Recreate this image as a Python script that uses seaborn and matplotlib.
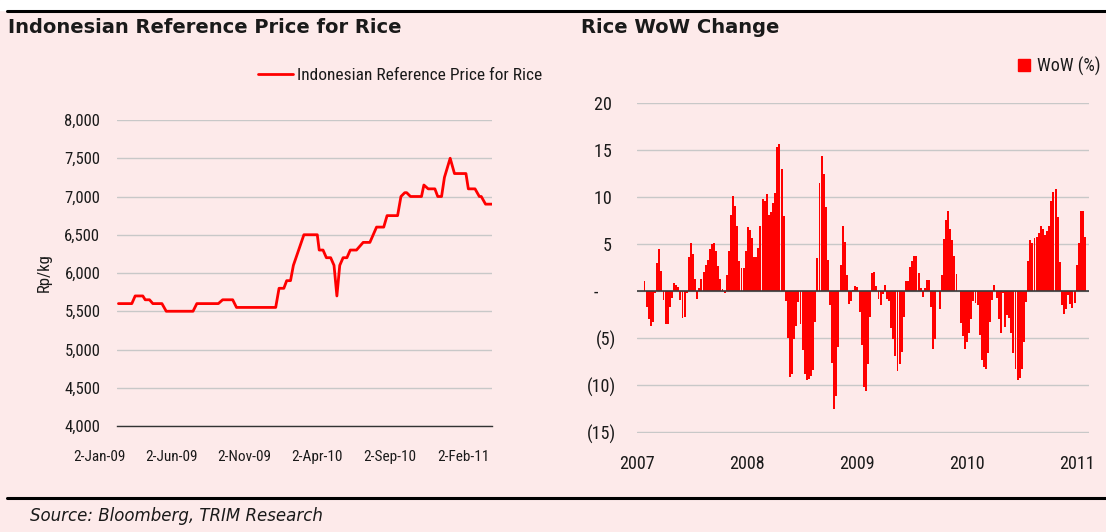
import matplotlib
matplotlib.use("Agg")
import numpy as np
import pandas as pd
import matplotlib.pyplot as plt
import matplotlib.dates as mdates
from matplotlib.lines import Line2D
from matplotlib.patches import Patch, Rectangle
import seaborn as sns

BG = "#FDEAEA"
RED = "#FF0000"
GRID = "#C8C8C8"
W, H = 1106, 532

# ---------------- data: Indonesian reference price (Rp/kg) ----------------
price_dates = [
    "2008-12-18", "2009-01-15", "2009-01-22", "2009-02-07", "2009-02-12", "2009-02-21",
    "2009-02-28", "2009-03-19", "2009-03-28", "2009-05-23", "2009-05-31", "2009-07-15",
    "2009-07-24", "2009-08-14", "2009-08-22", "2009-11-12", "2009-11-19", "2009-11-29",
    "2009-12-05", "2009-12-13", "2009-12-19", "2010-01-10", "2010-02-07", "2010-02-11",
    "2010-02-19", "2010-02-26", "2010-03-07", "2010-03-14", "2010-03-20", "2010-03-26",
    "2010-04-02", "2010-04-10", "2010-04-17", "2010-04-30", "2010-05-14", "2010-05-28",
    "2010-06-11", "2010-06-26", "2010-07-03", "2010-07-25", "2010-08-01", "2010-08-09",
    "2010-08-13", "2010-08-21", "2010-09-13", "2010-09-18", "2010-09-27", "2010-10-11",
    "2010-10-17", "2010-10-25", "2010-10-31", "2010-11-12", "2010-11-21", "2010-12-15",
    "2010-12-20", "2011-01-03", "2011-01-12", "2011-01-16", "2011-01-25", "2011-02-08",
]
price_values = [
    5600, 5600, 5700, 5700, 5650, 5650,
    5600, 5600, 5500, 5500, 5600, 5600,
    5650, 5650, 5550, 5550, 5800, 5800,
    5900, 5900, 6100, 6500, 6500, 6300,
    6300, 6200, 6200, 6100, 5700, 6100,
    6200, 6200, 6300, 6300, 6400, 6400,
    6600, 6600, 6750, 6750, 7000, 7050,
    7050, 7000, 7000, 7150, 7100, 7100,
    7000, 7000, 7250, 7500, 7300, 7300,
    7100, 7100, 7000, 7000, 6900, 6900,
]
price_ticks = ["2009-01-02", "2009-06-02", "2009-11-02", "2010-04-02", "2010-09-02", "2011-02-02"]
price_tick_labels = ["2-Jan-09", "2-Jun-09", "2-Nov-09", "2-Apr-10", "2-Sep-10", "2-Feb-11"]
price_yticks = [4000, 4500, 5000, 5500, 6000, 6500, 7000, 7500, 8000]

# ---------------- data: weekly WoW change (%) ----------------
wow_start = "2007-01-26"
wow_values = [
    # 2007
    1.1, -1.7, -3.0, -3.7, -3.3, -0.2, 3.0, 4.5, 2.2, -0.95, -3.5, -3.5, -1.7,
    -0.75, 0.9, 0.7, 0.4, -0.9, -2.85, -2.75, -0.2, 3.6, 5.1, 4.0, 1.3, -0.85,
    0.3, 1.3, 2.1, 2.8, 3.35, 4.5, 5.0, 5.1, 4.3, 2.7, 1.3, 0.2, -0.2,
    # late 2007 - 2008
    1.7, 4.3, 8.1, 10.1, 9.1, 7.0, 3.2, 2.5, 2.5, 4.3, 6.8, 6.5, 5.7, 3.6, 3.6,
    4.6, 7.0, 9.8, 9.6, 10.4, 8.1, 8.4, 9.4, 10.5, 15.4, 15.7, 13.0, 8.0, -1.0,
    -5.0, -9.1, -8.8, -5.1, -3.7, -1.1, -3.5, -6.3, -8.8, -9.5, -9.3, -9.0, -8.4, -3.3,
    # late 2008 - 2009
    3.5, 11.5, 14.4, 12.5, 9.0, 3.3, -1.5, -7.6, -12.5, -11.2, -5.9, 2.8, 7.0, 5.2,
    1.7, -1.35, -1.0, 0.1, 0.6, 0.4, -2.2, -5.7, -10.2, -10.6, -7.8, -2.75, 1.9, 2.1,
    0.6, -0.8, -1.5, -0.3, 0.7, -0.8, -1.0, -3.9, -5.1, -6.9, -8.5, -7.8, -6.5, -2.75, 1.1,
    # late 2009 - 2010
    1.1, 2.6, 3.2, 3.8, 3.8, 1.9, 0.3, -0.6, 0.3, 1.2, 1.2, -1.7, -6.2, -5.1, 0.0,
    -1.9, 1.7, 5.6, 7.6, 8.5, 6.6, 5.5, 3.7, 1.8, 0.0, -3.4, -4.8, -6.1, -5.4, -4.4,
    -3.0, -1.0, -1.3, -1.5, -4.7, -7.3, -8.1, -8.3, -6.6, -3.3, -0.9, 0.7, -0.7,
    # 2010 - 2011
    -3.0, -4.4, -0.2, -3.8, -2.5, -2.8, -4.4, -6.6, -8.3, -9.5, -9.2, -8.3, -5.4,
    -1.1, 3.2, 5.5, 5.1, 5.7, 5.8, 6.2, 7.0, 6.6, 6.0, 6.4, 6.9, 9.6, 10.6, 10.85,
    7.9, 3.1, -1.5, -2.4, -1.9, -0.4, -1.4, -1.8, -1.2, 2.8, 5.1, 8.5, 8.5, 5.8,
]
year_ticks = ["2007-01-01", "2008-01-01", "2009-01-01", "2010-01-01", "2011-01-01"]
year_labels = ["2007", "2008", "2009", "2010", "2011"]
wow_yticks = [-15, -10, -5, 0, 5, 10, 15, 20]


def wow_label(v):
    if v == 0:
        return "-\u2007\u2007"
    if v < 0:
        return f"({-v})"
    return f"{v} "


sns.set_theme(style="white")
plt.rcParams["font.family"] = ["Roboto Condensed", "DejaVu Sans"]
plt.rcParams["text.color"] = "#1a1a1a"
plt.rcParams["xtick.color"] = "#1a1a1a"
plt.rcParams["ytick.color"] = "#1a1a1a"

fig = plt.figure(figsize=(W / 100, H / 100), dpi=100, facecolor=BG)

# page frame: white strip at the top, black rules, titles and source
fig.patches.append(Rectangle((0, 1 - 10 / H), 1, 10 / H, transform=fig.transFigure,
                             color="white", zorder=0))
fig.add_artist(Line2D([7 / W, 1], [1 - 11 / H] * 2, color="black", lw=2.2))
fig.add_artist(Line2D([7 / W, 1], [1 - 498 / H] * 2, color="black", lw=2.2))
fig.text(8 / W, 1 - 28 / H, "Indonesian Reference Price for Rice", fontsize=14,
         fontweight="bold", family="DejaVu Sans", va="center")
fig.text(581 / W, 1 - 28 / H, "Rice WoW Change", fontsize=14,
         fontweight="bold", family="DejaVu Sans", va="center")
fig.text(30 / W, 1 - 516 / H, "Source: Bloomberg, TRIM Research", fontsize=12,
         style="italic", family="DejaVu Sans", va="center")

# ---------------- left: price line ----------------
ax1 = fig.add_axes([117 / W, 1 - 426 / H, 375 / W, 306 / H])
ax1.set_facecolor(BG)
sns.lineplot(x=pd.to_datetime(price_dates), y=price_values, ax=ax1, color=RED, lw=2.0)
ax1.set_xlim(pd.Timestamp("2008-12-15"), pd.Timestamp("2011-02-07 12:00"))
ax1.set_ylim(4000, 8000)
ax1.set_yticks(price_yticks)
ax1.set_yticklabels([f"{v:,}" for v in price_yticks], fontsize=12)
ax1.set_xticks(pd.to_datetime(price_ticks))
ax1.set_xticklabels(price_tick_labels, ha="right", fontsize=11)
ax1.yaxis.grid(True, color=GRID, lw=1)
ax1.set_axisbelow(True)
ax1.tick_params(axis="y", length=0, pad=12)
ax1.tick_params(axis="x", length=0, pad=17)
for s in ["top", "right", "left"]:
    ax1.spines[s].set_visible(False)
ax1.spines["bottom"].set_color("#333333")
ax1.spines["bottom"].set_linewidth(1.0)
ax1.set_xlabel("")
ax1.set_ylabel("")
fig.text(44 / W, 1 - 273 / H, "Rp/kg", rotation=90, va="center", ha="center", fontsize=12)

fig.legend(handles=[Line2D([], [], color=RED, lw=2)],
           labels=["Indonesian Reference Price for Rice"],
           loc="center left", bbox_to_anchor=(258 / W, 1 - 75 / H),
           frameon=False, handlelength=2.0, handletextpad=0.25,
           borderpad=0, borderaxespad=0, fontsize=12.5)

# ---------------- right: WoW bars ----------------
ax2 = fig.add_axes([637 / W, 1 - 433 / H, 452 / W, 330 / H])
ax2.set_facecolor(BG)
wow_dates = pd.date_range(wow_start, periods=len(wow_values), freq="7D")
wow_x = mdates.date2num(wow_dates)
sns.barplot(x=wow_x, y=wow_values, native_scale=True, orient="x", width=0.92,
            color=RED, saturation=1, linewidth=0, errorbar=None, ax=ax2)
ax2.set_xlim(mdates.date2num(pd.Timestamp("2007-01-01")),
             mdates.date2num(pd.Timestamp("2011-02-10")))
ax2.set_ylim(-15.1, 20.05)
ax2.set_yticks(wow_yticks)
ax2.set_yticklabels([wow_label(v) for v in wow_yticks], fontsize=13)
ax2.set_xticks(mdates.date2num(pd.to_datetime(year_ticks)))
ax2.set_xticklabels(year_labels, fontsize=13)
ax2.yaxis.grid(True, color=GRID, lw=1)
ax2.set_axisbelow(True)
ax2.axhline(0, color="#3a3a3a", lw=1.2, zorder=3)
ax2.tick_params(axis="y", length=0, pad=15)
ax2.tick_params(axis="x", length=0, pad=16)
for s in ax2.spines.values():
    s.set_visible(False)
ax2.set_xlabel("")
ax2.set_ylabel("")

fig.legend(handles=[Patch(color=RED)], labels=["WoW (%)"],
           loc="center left", bbox_to_anchor=(1018 / W, 1 - 66 / H),
           frameon=False, handlelength=0.65, handleheight=0.7, handletextpad=0.4,
           borderpad=0, borderaxespad=0, fontsize=13)

fig.savefig("out.png", dpi=100, facecolor=BG)
